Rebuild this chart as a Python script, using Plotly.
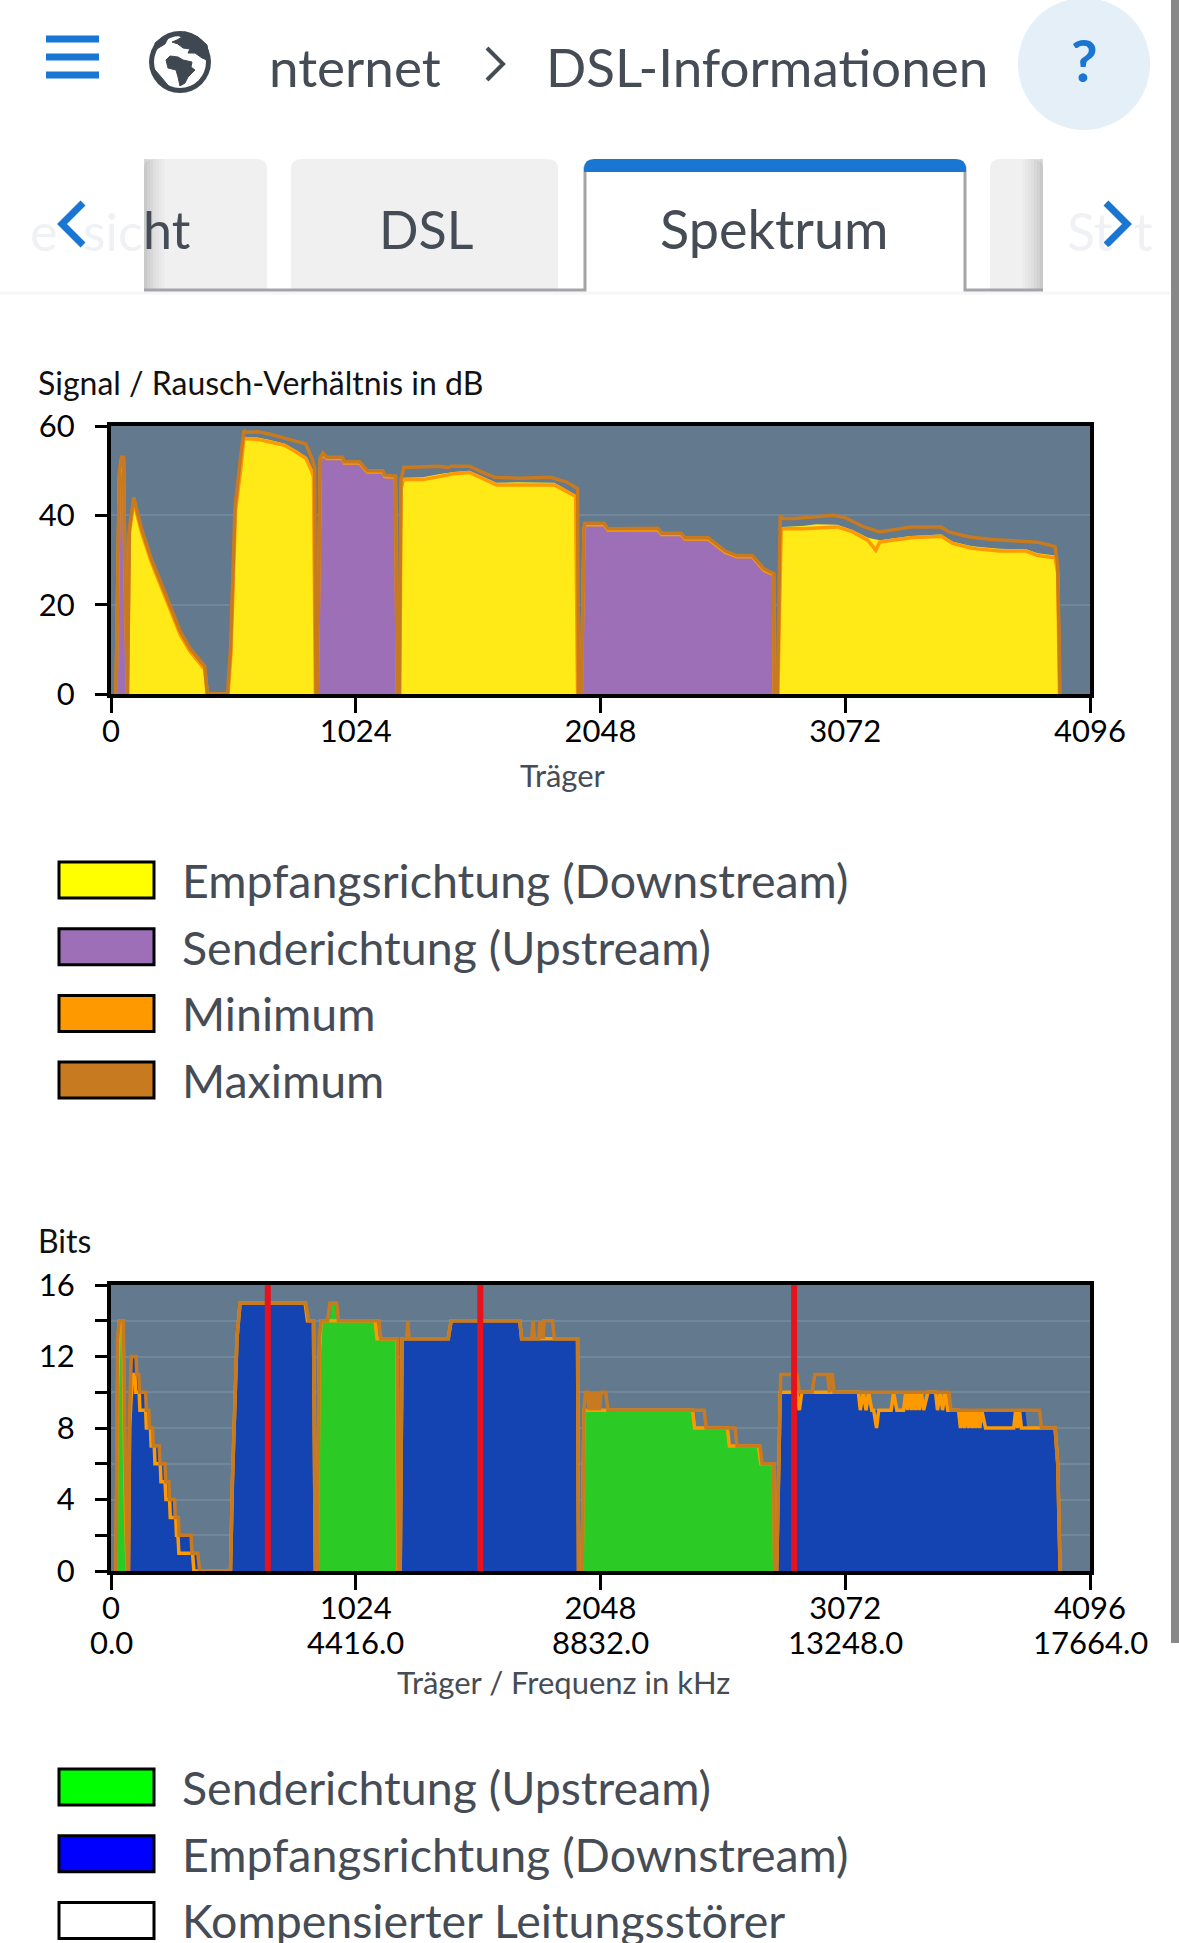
import plotly.graph_objects as go

W = 1179
H = 1943
FONT = "Lato"
TEXT_GREY = "#454c55"
BLUE = "#1976d2"
FADED = "#f0f1f4"

# SNR chart, carrier / dB pairs
snr_down_x = [69, 77, 95, 129, 169, 210, 250, 290, 331, 363, 392, 403, None,
              490, 502, 513, 521, 542, 556, 613, 661, 726, 774, 815, 839, 847, 856, None,
              1208, 1214, 1224, 1306, 1370, 1435, 1500, 1613, 1700, 1855, 1944, 1952, None,
              2790, 2804, 2893, 2950, 3038, 3103, 3167, 3216, 3345, 3474, 3522, 3603, 3716, 3829, 3877, 3950, 3961, 3969]
snr_down_y = [0, 37, 43.3, 36.3, 29.8, 24.3, 19.1, 13.5, 9.8, 7.8, 5.8, 0, None,
              0, 9, 29, 41.5, 51, 57.6, 57.4, 56.9, 56, 54.6, 53.1, 50.4, 49, 0, None,
              0, 46, 48.4, 48.5, 49.2, 49.7, 50, 47.3, 47.4, 47.3, 44.6, 0, None,
              0, 37.4, 37.6, 38, 37.9, 36.7, 35, 34.4, 35.4, 35.7, 34.1, 33.1, 32.5, 32.4, 31.5, 31, 28, 0]
snr_up_x = [21, 29, 35, 44, 52, 58, 65, 69, None,
            863, 876, 887, 903, 968, 976, 1040, 1073, 1137, 1145, 1190, 1198, None,
            1968, 1979, 1982, 2063, 2079, 2288, 2304, 2385, 2401, 2498, 2571, 2619, 2683, 2732, 2772, 2775]
snr_up_y = [0, 34, 49, 52.5, 52.5, 29, 9, 0, None,
            0, 52.6, 53.6, 52.7, 52.7, 51.7, 51.7, 49.7, 49.7, 48.7, 48.5, 0, None,
            0, 36.7, 37.9, 37.9, 36.7, 36.8, 35.7, 35.7, 34.7, 34.7, 31.7, 30.7, 30.7, 27.7, 26.7, 0]
snr_min_x = [21, 29, 35, 44, 52, 58, 65, 69, 77, 95, 129, 169, 210, 250, 290, 331, 363, 392, 403,
             490, 502, 513, 521, 542, 556, 613, 661, 726, 774, 815, 839, 847, 855,
             863, 876, 887, 903, 968, 976, 1040, 1073, 1137, 1145, 1190, 1198,
             1208, 1214, 1224, 1306, 1435, 1500, 1613, 1855, 1944, 1952,
             1968, 1979, 1982, 2063, 2079, 2288, 2304, 2385, 2401, 2498, 2571, 2619, 2683, 2732, 2772, 2775,
             2790, 2804, 2893, 3038, 3103, 3167, 3200, 3216, 3345, 3474, 3522, 3603, 3716, 3829, 3877, 3950, 3961, 3968]
snr_min_y = [0, 34, 49, 52.5, 52.5, 29, 9, 0, 36, 43, 36, 29.5, 24, 18.8, 13.2, 9.5, 7.5, 5.5, 0,
             0, 9, 28, 41, 50, 57.2, 57, 56.5, 55.7, 54.2, 52.8, 50, 48.6, 0,
             0, 52.6, 53.6, 52.7, 52.7, 51.7, 51.7, 49.7, 49.7, 48.7, 48.5, 0,
             0, 46, 48, 48, 49.3, 49.6, 46.8, 46.8, 44.2, 0,
             0, 36.7, 37.9, 37.9, 36.7, 36.8, 35.7, 35.7, 34.7, 34.7, 31.7, 30.7, 30.7, 27.7, 26.7, 0,
             0, 37, 37, 37.4, 36.3, 34.4, 32.2, 34, 35, 35.3, 33.7, 32.6, 32, 32, 31, 30.5, 27, 0]
snr_max_x = [21, 29, 35, 44, 52, 58, 65, 69, 77, 95, 129, 169, 210, 250, 290, 331, 363, 392, 403,
             487, 500, 511, 519, 540, 556, 565, 616, 661, 742, 815, 839, 852, 858,
             863, 876, 887, 903, 968, 976, 1040, 1073, 1137, 1145, 1190, 1198,
             1206, 1213, 1226, 1371, 1411, 1427, 1500, 1548, 1605, 1710, 1839, 1903, 1952, 1956,
             1968, 1979, 1982, 2063, 2079, 2288, 2304, 2385, 2401, 2498, 2571, 2619, 2683, 2732, 2772, 2775,
             2788, 2800, 2812, 2861, 2958, 3022, 3071, 3151, 3216, 3345, 3474, 3506, 3587, 3683, 3772, 3877, 3950, 3961, 3971]
snr_max_y = [0, 35, 50, 53, 53, 30, 10, 0, 37, 44, 36.8, 30.2, 24.8, 19.6, 14, 10.2, 8.2, 6.2, 0,
             0, 10, 30, 42, 52, 59, 58.6, 58.7, 58.2, 57, 56, 53, 50.7, 0,
             0, 53, 54, 53, 53, 52, 52, 50, 50, 49, 48.8, 0,
             0, 48, 50.7, 51, 50.7, 51, 51, 49.8, 48.5, 48.3, 48.5, 47.5, 46, 0,
             0, 37, 38.2, 38.2, 37, 37.1, 36, 36, 35, 35, 32, 31, 31, 28, 27, 0,
             0, 40, 39.3, 39.3, 39.7, 40, 39.5, 37.4, 36.3, 37.4, 37.4, 36.3, 35.2, 34.6, 34.3, 34, 33, 28.8, 0]

# bit loading chart
bits_down_x = [73, 78, 85, 105, 108, 116, 120, 145, 148, 158, 161, 174, 177, 202, 205, 226, 229, 242, 245, 266, 269, 282, 285, 335, 339, 363, 371, None,
               500, 508, 519, 527, 540, 815, 827, 847, 855, None,
               1210, 1218, 1411, 1423, 1710, 1718, 1952, 1956, None,
               2788, 2800, 3127, 3135, 3148, 3159, 3170, 3183, 3264, 3274, 3288, 3316, 3325, 3333, 3342, 3350, 3358, 3366, 3374, 3382, 3390, 3400, 3418, 3450, 3458, 3470, 3479, 3490, 3501, 3825, 3833, 3950, 3961, 3971]
bits_down_y = [0, 9, 12, 12, 11, 11, 10, 10, 9, 9, 8, 8, 7, 7, 6, 6, 5, 5, 4, 4, 3, 3, 2, 2, 1, 1, 0, None,
               0, 5, 10, 13, 15, 15, 14, 14, 0, None,
               0, 13, 13, 14, 14, 13, 13, 0, None,
               0, 10, 10, 9, 10, 9, 10, 9, 9, 10, 9, 9, 10, 9, 10, 9, 10, 9, 10, 9, 10, 9, 10, 10, 9, 10, 9, 10, 9, 9, 8, 8, 6, 0]
bits_up_x = [21, 27, 35, 50, 58, 67, None,
             863, 871, 879, 916, 922, 938, 944, 1105, 1113, 1196, 1200, None,
             1971, 1979, 2433, 2442, 2579, 2587, 2708, 2719, 2772, 2777]
bits_up_y = [0, 10, 14, 14, 5, 0, None,
             0, 12, 14, 14, 15, 15, 14, 14, 13, 13, 0, None,
             0, 9, 9, 8, 8, 7, 7, 6, 6, 0]
bits_min_x = [21, 27, 35, 50, 58, 67, 73, 78, 89, 100, 103, 118, 121, 145, 148, 165, 168, 181, 184, 206, 209, 226, 230, 245, 248, 271, 274, 280, 284, 335, 341, 347,
              500, 508, 519, 527, 540, 812, 822, 847, 855,
              863, 871, 879, 1105, 1113, 1196, 1200,
              1210, 1218, 1411, 1423, 1710, 1718, 1952, 1956,
              1971, 1979, 2433, 2442, 2579, 2587, 2708, 2719, 2772, 2777,
              2785, 2800, 2869, 2880, 2890, 3127, 3135, 3148, 3159, 3170, 3183, 3191, 3203, 3212, 3264, 3274, 3288, 3316, 3325, 3333, 3342, 3350, 3358, 3366, 3374, 3382, 3390, 3400, 3418, 3450, 3458, 3470, 3479, 3490, 3501,
              3546, 3554, 3562, 3570, 3578, 3587, 3595, 3603, 3611, 3619, 3627, 3635, 3643, 3659, 3777, 3785, 3793, 3801, 3809, 3950, 3961, 3971]
bits_min_y = [0, 10, 14, 14, 5, 0, 0, 8, 11, 11, 10, 10, 9, 9, 8, 8, 7, 7, 6, 6, 5, 5, 4, 4, 3, 3, 2, 2, 1, 1, 1, 0,
              0, 5, 10, 13, 15, 15, 14, 14, 0,
              0, 12, 14, 14, 13, 13, 0,
              0, 13, 13, 14, 14, 13, 13, 0,
              0, 9, 9, 8, 8, 7, 7, 6, 6, 0,
              0, 10, 10, 9, 10, 10, 9, 10, 9, 10, 9, 9, 8, 9, 9, 10, 9, 9, 10, 9, 10, 9, 10, 9, 10, 9, 10, 9, 10, 10, 9, 10, 9, 10, 9,
              9, 8, 9, 8, 9, 8, 9, 8, 9, 8, 9, 8, 9, 8, 8, 9, 8, 9, 8, 8, 6, 0]
bits_max_x = [21, 27, 35, 52, 60, 69, 73, 78, 85, 105, 108, 116, 120, 145, 148, 158, 161, 174, 177, 202, 205, 226, 229, 242, 245, 266, 269, 282, 285, 335, 339, 363, 371,
              500, 508, 519, 527, 540, 815, 827, 847, 855,
              863, 871, 879, 906, 916, 944, 952, 1121, 1129, 1198, 1202,
              1210, 1218, 1237, 1242, 1247, 1411, 1423, 1710, 1718, 1760, 1766, 1772, 1790, 1795, 1800, 1804, 1808, 1812, 1847, 1855, 1952, 1956,
              1971, 1979, 1985, 1995, 2000, 2008, 2016, 2024, 2030, 2036, 2044, 2050, 2070, 2079, 2482, 2490, 2611, 2619, 2716, 2724, 2772, 2777,
              2785, 2798, 2802, 2870, 2880, 2933, 2945, 2998, 3006, 3010, 3018, 3025, 3506, 3514, 3885, 3893, 3950, 3961, 3971]
bits_max_y = [0, 13, 14, 14, 6, 0, 0, 9, 12, 12, 11, 11, 10, 10, 9, 9, 8, 8, 7, 7, 6, 6, 5, 5, 4, 4, 3, 3, 2, 2, 1, 1, 0,
              0, 5, 10, 13, 15, 15, 14, 14, 0,
              0, 13, 14, 14, 15, 15, 14, 14, 13, 13, 0,
              0, 13, 13, 14, 13, 13, 14, 14, 13, 13, 14, 13, 13, 14, 13, 14, 13, 14, 14, 13, 13, 0,
              0, 9, 10, 10, 9, 10, 9, 10, 9, 10, 9, 10, 10, 9, 9, 8, 8, 7, 7, 6, 6, 0,
              0, 10, 11, 11, 10, 10, 11, 11, 10, 11, 11, 10, 10, 9, 9, 8, 8, 6, 0]
pilot_tones = [656, 1545, 2858]

carrier_ticks = [0, 1024, 2048, 3072, 4096]
freq_labels = ["0.0", "4416.0", "8832.0", "13248.0", "17664.0"]
snr_ticks = [0, 20, 40, 60]
bits_ticks = [0, 2, 4, 6, 8, 10, 12, 14, 16]
bits_tick_labels = ["0", "", "4", "", "8", "", "12", "", "16"]

snr_legend = [("Empfangsrichtung (Downstream)", "#ffff00"), ("Senderichtung (Upstream)", "#9c6fb6"),
              ("Minimum", "#ff9900"), ("Maximum", "#c87a20")]
bits_legend = [("Senderichtung (Upstream)", "#00ff00"), ("Empfangsrichtung (Downstream)", "#0000ff"),
               ("Kompensierter Leitungsstörer", "#ffffff")]


def fx(x):
    return x / W


def fy(y):
    return 1 - y / H


def label(text, x, y, size, color=TEXT_GREY, anchor="left", weight=None):
    return dict(text=text, x=fx(x), y=fy(y), xref="paper", yref="paper", showarrow=False,
                xanchor=anchor, yanchor="middle",
                font=dict(family=FONT, size=size, color=color, weight=weight))


def rect(x0, y0, x1, y1, fill, line=None, width=0, opacity=1):
    return dict(type="rect", xref="paper", yref="paper", x0=fx(x0), x1=fx(x1), y0=fy(y0), y1=fy(y1),
                fillcolor=fill, opacity=opacity, line=dict(color=line or fill, width=width))


def poly(points, color, width):
    path = "M " + " L ".join(f"{fx(x):.5f},{fy(y):.5f}" for x, y in points)
    return dict(type="path", xref="paper", yref="paper", path=path,
                line=dict(color=color, width=width))


def blob(points, fill):
    path = "M " + " L ".join(f"{fx(x):.5f},{fy(y):.5f}" for x, y in points) + " Z"
    return dict(type="path", xref="paper", yref="paper", path=path, fillcolor=fill,
                line=dict(color=fill, width=1))


def round_top(x0, x1, y0, y1, r, fill):
    # tab with rounded upper corners
    path = (f"M {fx(x0)},{fy(y1)} L {fx(x0)},{fy(y0 + r)} Q {fx(x0)},{fy(y0)} {fx(x0 + r)},{fy(y0)} "
            f"L {fx(x1 - r)},{fy(y0)} Q {fx(x1)},{fy(y0)} {fx(x1)},{fy(y0 + r)} L {fx(x1)},{fy(y1)} Z")
    return dict(type="path", xref="paper", yref="paper", path=path, fillcolor=fill, line=dict(width=0))


def circle(cx, cy, r, fill):
    return dict(type="circle", xref="paper", yref="paper", x0=fx(cx - r), x1=fx(cx + r),
                y0=fy(cy - r), y1=fy(cy + r), fillcolor=fill, line=dict(width=0))


fig = go.Figure()

# fills first, then min and max on top
for x, y, color in [(snr_down_x, snr_down_y, "#ffea17"), (snr_up_x, snr_up_y, "#9c6fb6")]:
    fig.add_trace(go.Scatter(x=x, y=y, mode="none", fill="tozeroy", fillcolor=color, xaxis="x", yaxis="y"))
for x, y, color in [(snr_min_x, snr_min_y, "#ff9900"), (snr_max_x, snr_max_y, "#c87a20")]:
    fig.add_trace(go.Scatter(x=x, y=y, mode="lines", line=dict(color=color, width=3.5), xaxis="x", yaxis="y"))

for x, y, color in [(bits_down_x, bits_down_y, "#1344b2"), (bits_up_x, bits_up_y, "#2bca25")]:
    fig.add_trace(go.Scatter(x=x, y=y, mode="none", fill="tozeroy", fillcolor=color, xaxis="x2", yaxis="y2"))
for x, y, color in [(bits_min_x, bits_min_y, "#ff9900"), (bits_max_x, bits_max_y, "#c87a20")]:
    fig.add_trace(go.Scatter(x=x, y=y, mode="lines", line=dict(color=color, width=3.5), xaxis="x2", yaxis="y2"))
for tone in pilot_tones:
    fig.add_trace(go.Scatter(x=[tone, tone], y=[0, 16], mode="lines",
                             line=dict(color="#e8121c", width=6), xaxis="x2", yaxis="y2"))

shapes = []
notes = []

# top bar
for y in [39, 57, 75]:
    shapes.append(poly([(46, y), (99, y)], BLUE, 7))
shapes.append(circle(180, 62, 31, "#3f4850"))
shapes.append(circle(180, 62, 26, "#ffffff"))
shapes.append(blob([(174, 34), (182, 37), (177, 40), (172, 42), (178, 44), (183, 48), (190, 49), (188, 53), (195, 53),
                    (202, 58), (207, 60), (209, 57), (207, 45), (198, 37), (185, 32)], "#3f4850"))
shapes.append(blob([(166, 60), (170, 56), (178, 57), (183, 60), (192, 62), (191, 67), (195, 70), (188, 77), (185, 83),
                    (180, 86), (178, 77), (176, 70), (168, 68)], "#3f4850"))
shapes.append(blob([(155, 50), (165, 44), (168, 38), (163, 37), (155, 43)], "#3f4850"))
shapes.append(blob([(155, 70), (162, 78), (170, 88), (162, 85), (155, 77)], "#3f4850"))
notes.append(label("nternet", 267, 66, 53))
shapes.append(poly([(487, 48), (503, 64), (487, 80)], TEXT_GREY, 4))
notes.append(label("DSL-Informationen", 544, 66, 53))
shapes.append(circle(1084, 64, 66, "#e4eff8"))
notes.append(label("?", 1084, 60, 58, BLUE, "center", 700))

# tab strip, the faded words run behind the arrows
notes.append(label("e", 59, 231, 52, FADED, "right"))
notes.append(label("sic", 145, 231, 52, FADED, "right"))
notes.append(label("St", 1065, 231, 52, FADED))
notes.append(label("t", 1132, 231, 52, FADED))
shapes.append(poly([(0, 293), (1170, 293)], "#f6f6f6", 3))
shapes.append(round_top(144, 267, 159, 289, 10, "#f0f0f1"))
for i, alpha in enumerate([0.16, 0.13, 0.10, 0.07, 0.05, 0.03, 0.015]):
    shapes.append(rect(144 + 3 * i, 159, 147 + 3 * i, 289, "#000000", opacity=alpha))
shapes.append(round_top(291, 558, 159, 289, 10, "#f0f0f1"))
shapes.append(round_top(990, 1043, 159, 289, 10, "#f0f0f1"))
for i, alpha in enumerate([0.16, 0.13, 0.10, 0.07, 0.05, 0.03, 0.015]):
    shapes.append(rect(1040 - 3 * i, 159, 1043 - 3 * i, 289, "#000000", opacity=alpha))
shapes.append(poly([(144, 290), (585, 290), (585, 168), (965, 168), (965, 290), (1043, 290)], "#a3a5a8", 3))
shapes.append(round_top(584, 966, 159, 172, 10, BLUE))
notes.append(label("ht", 193, 229, 52, anchor="right"))
notes.append(label("DSL", 426, 229, 52, anchor="center"))
notes.append(label("Spektrum", 774, 229, 54, anchor="center"))
shapes.append(poly([(83, 203), (62, 224), (83, 245)], BLUE, 7))
shapes.append(poly([(1106, 203), (1127, 224), (1106, 245)], BLUE, 7))

# scrollbar
shapes.append(rect(1171, 0, 1179, 1643, "#888888"))

# chart captions
notes.append(label("Signal / Rausch-Verhältnis in dB", 36, 382, 32, "#111111"))
notes.append(label("Bits", 36, 1240, 32, "#111111"))
notes.append(label("Träger", 563, 775, 31, anchor="center"))
notes.append(label("Träger / Frequenz in kHz", 563, 1682, 31, anchor="center"))

# frequency row under the carrier labels of the bits chart
for carrier, freq in zip(carrier_ticks, freq_labels):
    notes.append(dict(text=freq, x=carrier, y=fy(1642), xref="x2", yref="paper", showarrow=False,
                      xanchor="center", yanchor="middle",
                      font=dict(family=FONT, size=31, color="#000000")))

# hand made legends, the boxes do not look like plotly's
for rows, start in [(snr_legend, 880), (bits_legend, 1787)]:
    for i, (name, color) in enumerate(rows):
        cy = start + i * 66.7
        shapes.append(rect(59, cy - 18, 154, cy + 18, color, "#000000", 3))
        notes.append(label(name, 180, cy, 46.5))

axis_style = dict(showline=True, mirror=True, linecolor="#000000", linewidth=4, automargin=False,
                  ticks="outside", tickcolor="#000000", tickwidth=3, ticklen=12,
                  tickfont=dict(family=FONT, size=31, color="#000000"), zeroline=False)
x_style = dict(axis_style, ticklen=15, ticklabelstandoff=-8, range=[0, 4096], tickvals=carrier_ticks,
               showgrid=False, domain=[fx(111), fx(1090)])

fig.update_layout(
    width=W,
    height=H,
    margin=dict(l=0, r=0, t=0, b=0),
    paper_bgcolor="#ffffff",
    plot_bgcolor="#62798e",
    showlegend=False,
    shapes=shapes,
    annotations=notes,
    xaxis=dict(x_style, anchor="y"),
    yaxis=dict(axis_style, domain=[fy(694), fy(426)], range=[0, 60], tickvals=snr_ticks,
               gridcolor="#72879a", gridwidth=2, ticklabelstandoff=14, anchor="x"),
    xaxis2=dict(x_style, anchor="y2"),
    yaxis2=dict(axis_style, domain=[fy(1571), fy(1285)], range=[0, 16], tickvals=bits_ticks,
                ticktext=bits_tick_labels, gridcolor="#72879a", gridwidth=2, ticklabelstandoff=14, anchor="x2"),
)

fig.write_html("out.html", config=dict(displayModeBar=False),
               post_script="document.body.style.margin='0';document.body.style.overflow='hidden';")
